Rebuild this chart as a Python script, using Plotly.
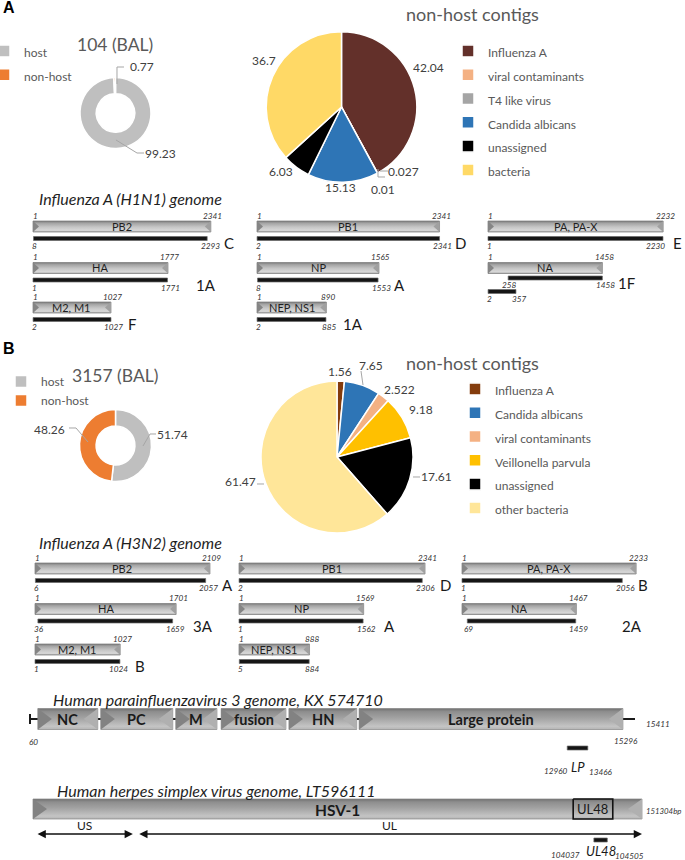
import plotly.graph_objects as go

# ------------------------------------------------------------------ data
host_labels = ["host", "non-host"]
host_colors = ["#bfbfbf", "#ed7d31"]

a_sample = "104 (BAL)"
a_host_values = [99.23, 0.77]
a_contig_labels = ["Influenza A", "viral contaminants", "T4 like virus",
                   "Candida albicans", "unassigned", "bacteria"]
a_contig_values = [42.04, 0.027, 0.01, 15.13, 6.03, 36.7]
a_contig_colors = ["#63302a", "#f4b183", "#a5a5a5", "#2e75b6", "#000000", "#ffd966"]

b_sample = "3157 (BAL)"
b_host_values = [51.74, 48.26]
b_contig_labels = ["Influenza A", "Candida albicans", "viral contaminants",
                   "Veillonella parvula", "unassigned", "other bacteria"]
b_contig_values = [1.56, 7.65, 2.522, 9.18, 17.61, 61.47]
b_contig_colors = ["#843c0c", "#2e75b6", "#f4b183", "#ffc000", "#000000", "#ffe699"]

seg_names = ["PB2", "PB1", "PA, PA-X", "HA", "NP", "NA", "M2, M1", "NEP, NS1"]

h1n1_title = "Influenza A (H1N1) genome"
h1n1_lengths = [2341, 2341, 2232, 1777, 1565, 1458, 1027, 890]
h1n1_cov = [[(8, 2293)], [(2, 2341)], [(1, 2230)], [(1, 1771)], [(8, 1553)],
            [(258, 1458), (2, 357)], [(2, 1027)], [(2, 885)]]
h1n1_clade = ["C", "D", "E", "1A", "A", "1F", "F", "1A"]

h3n2_title = "Influenza A (H3N2) genome"
h3n2_lengths = [2109, 2341, 2233, 1701, 1569, 1467, 1027, 888]
h3n2_cov = [[(6, 2057)], [(2, 2306)], [(1, 2056)], [(36, 1659)], [(1, 1562)],
            [(69, 1459)], [(1, 1024)], [(5, 884)]]
h3n2_clade = ["A", "D", "B", "3A", "A", "2A", "B", ""]

# schematic tracks: positions as drawn, in % of the genome line
hpiv3_title = "Human parainfluenzavirus 3 genome, KX 574710"
hpiv3_genes = ["NC", "PC", "M", "fusion", "HN", "Large protein"]
hpiv3_gene_start = [1.3, 11.7, 24.1, 31.6, 42.8, 54.4]
hpiv3_gene_end = [11.2, 23.6, 30.9, 42.3, 54.0, 98.0]
hpiv3_line = [0, 100]
hpiv3_coord_labels = ["60", "15296", "15411"]
hpiv3_read = [88.8, 92.2]
hpiv3_read_labels = ["12960", "LP", "13466"]

hsv_title = "Human herpes simplex virus genome, LT596111"
hsv_name = "HSV-1"
hsv_genome = [0, 100]
hsv_length_label = "151304bp"
hsv_regions = ["US", "UL"]
hsv_region_start = [0.5, 17.2]
hsv_region_end = [16.4, 100]
hsv_box_label = "UL48"
hsv_box = [88.7, 95.2]
hsv_read = [92.1, 94.3]
hsv_read_labels = ["104037", "UL48", "104505"]

# ------------------------------------------------------------------ layout constants
W, H = 685, 860
FONT = "Lato"
TXT = "#595959"
LBL = "#404040"
DARK = "#1f1f1f"


def fx(p):
    return p / W


def fy(p):
    return 1 - p / H


fig = go.Figure()
axes = {}
annotations = []
shapes = []


def xref_of(i):
    return "x" if i == 1 else f"x{i}"


def add_xaxis(i, origin, scale, v0, d0, d1):
    d0 = max(0, d0)
    d1 = min(W, d1)
    name = "xaxis" if i == 1 else f"xaxis{i}"
    axes[name] = dict(domain=[fx(d0), fx(d1)],
                      range=[v0 + (d0 - origin) / scale, v0 + (d1 - origin) / scale],
                      visible=False, fixedrange=True, anchor="y")
    return xref_of(i)


def poly(xref, xs, ys, fillcolor, line_color=None, line_width=0, gradient=None):
    kw = {}
    if gradient is not None:
        kw["fillgradient"] = dict(type="vertical", colorscale=gradient)
    fig.add_trace(go.Scatter(x=xs, y=ys, mode="lines", fill="toself", fillcolor=fillcolor,
                             line=dict(color=line_color or fillcolor, width=line_width),
                             xaxis=xref, yaxis="y", hoverinfo="skip", showlegend=False, **kw))


BAR_GRAD = [[0, "#a8a8a8"], [0.15, "#d8d8d8"], [0.45, "#c6c6c6"], [0.8, "#a4a4a4"], [1, "#7a7a7a"]]
GENE_GRAD = [[0, "#b4b4b4"], [0.15, "#c4c4c4"], [0.55, "#a2a2a2"], [0.85, "#8e8e8e"], [1, "#707070"]]


def bevel_bar(xref, x0, x1, yc, h, notch, grad, edge="#7a7a7a",
              notch_l="#858585", notch_r="#a0a0a0"):
    t, b = yc - h / 2, yc + h / 2
    poly(xref, [x0, x1, x1, x0, x0], [t, t, b, b, t], "#bbbbbb", edge, 0.7, grad)
    poly(xref, [x0, x0 + notch, x0, x0], [t, yc, b, t], notch_l)
    poly(xref, [x1, x1 - notch, x1, x1], [t, yc, b, t], notch_r)


def black_bar(xref, x0, x1, yc, h):
    t, b = yc - h / 2, yc + h / 2
    poly(xref, [x0, x1, x1, x0, x0], [t, t, b, b, t], "#151515", "#6a6a6a", 0.7)


def text(xref, x, y, s, size, color=DARK, xanchor="center", xshift=0, family=FONT, yref="y"):
    annotations.append(dict(xref=xref, yref=yref, x=x, y=y, text=s, showarrow=False,
                            xanchor=xanchor, yanchor="middle", xshift=xshift,
                            font=dict(size=size, color=color, family=family)))


def ptext(x, y, s, size, color=DARK, xanchor="center", family=FONT):
    annotations.append(dict(xref="paper", yref="paper", x=fx(x), y=fy(y), text=s,
                            showarrow=False, xanchor=xanchor, yanchor="middle",
                            font=dict(size=size, color=color, family=family)))


def leader(points):
    d = "M" + " L".join(f"{fx(x):.5f},{fy(y):.5f}" for x, y in points)
    shapes.append(dict(type="path", xref="paper", yref="paper", path=d,
                       line=dict(color="#a6a6a6", width=1)))


axes["yaxis"] = dict(domain=[0, 1], range=[H, 0], visible=False, fixedrange=True, anchor="x")

# ------------------------------------------------------------------ pies
def add_pie(labels, values, colors, cx, cy, r, hole, legend_name, label_style=None):
    shown = labels
    if label_style:
        shown = [f"<span style='{label_style}'>{l}</span>" for l in labels]
    fig.add_trace(go.Pie(labels=shown, values=values, sort=False, direction="clockwise",
                         rotation=0, hole=hole, textinfo="none",
                         marker=dict(colors=colors, line=dict(color="white", width=1.5)),
                         domain=dict(x=[fx(cx - r), fx(cx + r)], y=[fy(cy + r), fy(cy - r)]),
                         legend=legend_name, hovertemplate="%{label}: %{value}<extra></extra>"))


def pie_labels(values, positions):
    for v, (x, y) in zip(values, positions):
        ptext(x, y, str(v), 12, LBL)


add_pie(host_labels, a_host_values, host_colors, 115.5, 113, 35.5, 0.54, "legend",
        "font-size:12px")
add_pie(a_contig_labels, a_contig_values, a_contig_colors, 341.5, 107, 75.3, 0, "legend2",
        "font-size:12px")
add_pie(host_labels, b_host_values, host_colors, 115.5, 445.5, 36, 0.54, "legend3")
add_pie(b_contig_labels, b_contig_values, b_contig_colors, 337, 457, 76, 0, "legend4",
        "font-size:12.0px")

ptext(115, 45, a_sample, 17.5, TXT)
ptext(472, 14, "non-host contigs", 18, TXT)
ptext(115, 375, b_sample, 17.5, TXT)
ptext(473, 363, "non-host contigs", 18, TXT)

pie_labels(a_host_values, [(160, 153), (141.5, 67)])
pie_labels(a_contig_values, [(428, 68), (403, 172), (383, 189), (340, 187), (281, 172), (264, 60)])
pie_labels(b_host_values, [(172, 434), (50, 429)])
pie_labels(b_contig_values, [(340, 372), (371, 365), (400, 389), (421, 410), (436, 476), (240, 481)])

leader([(117, 84), (117, 67), (124, 67)])
leader([(116, 140), (137, 153), (144, 153)])
leader([(378, 169), (378, 177), (385, 177)])
leader([(380, 171), (388, 171)])
leader([(69, 428), (76, 428), (88, 442)])
leader([(143, 446), (150, 434), (156, 434)])
leader([(363, 385), (361, 371)])
leader([(413, 477), (420, 477)])
leader([(257, 484), (264, 484)])

# ------------------------------------------------------------------ influenza genomes
SEG_POS = [(0, 0), (1, 0), (2, 0), (0, 1), (1, 1), (2, 1), (0, 2), (1, 2)]
GRAY_H, BLACK_H = 11, 4
NOTCH_PX = 6
NUM = 8.2


def draw_flu(title, ty, lengths, covs, clades, origins, scales, rows, first_axis,
             letter_dx, end_dx):
    ptext(37, ty, f"<i>{title}</i>", 16, DARK, xanchor="left")
    refs = []
    for c in range(3):
        refs.append(add_xaxis(first_axis + c, origins[c], scales[c], 1,
                              origins[c] - 25, origins[c] + 2400 * scales[c] + 25))
    for i, name in enumerate(seg_names):
        c, r = SEG_POS[i]
        xr, s, yc, L = refs[c], scales[c], rows[r], lengths[i]
        bevel_bar(xr, 1, L, yc, GRAY_H, NOTCH_PX / s, BAR_GRAD)
        text(xr, (1 + L) / 2, yc - 0.5, name, 11, DARK)
        text(xr, 1, yc - 11, "<i>1</i>", NUM, "#333", xshift=2)
        text(xr, L, yc - 11, f"<i>{L}</i>", NUM, "#333", xshift=2)
        pieces = covs[i]
        if len(pieces) == 1:
            offs = [(12, 7.5)]
        else:
            offs = [(10, 6.5), (23.5, 7)]
        for k, ((a, b), (dy, ly)) in enumerate(zip(pieces, offs)):
            by = yc + dy
            black_bar(xr, a, b, by, BLACK_H)
            text(xr, a, by + ly, f"<i>{a}</i>", NUM, "#333", xshift=1)
            text(xr, b, by + ly, f"<i>{b}</i>", NUM, "#333", xshift=end_dx[i] if k == 0 else 3)
        if clades[i]:
            text(xr, pieces[0][1], yc + offs[0][0] + 4.5, clades[i], 15, "#1a1a1a",
                 xanchor="left", xshift=letter_dx[i])


draw_flu(h1n1_title, 198, h1n1_lengths, h1n1_cov, h1n1_clade,
         [33, 257, 488], [0.076, 0.078, 0.0785], [226.5, 268, 307.5], 1,
         [15, 13, 8, 26, 14, 14, 15, 15], [3, 3, -7, 3, 3, 3, 3, 3])
draw_flu(h3n2_title, 542, h3n2_lengths, h3n2_cov, h3n2_clade,
         [35, 239, 462], [0.083, 0.0795, 0.078], [568.5, 609, 649.5], 4,
         [14, 16, 14, 18, 19, 44, 13, 16], [3, 3, 3, 3, 3, 3, -1, 3])

# ------------------------------------------------------------------ HPIV3 (schematic)
hx = add_xaxis(7, 30, 6.05, 0, 12, 680)
HY = 719
ptext(51, 699, f"<i>{hpiv3_title}</i>", 16, DARK, xanchor="left")
fig.add_trace(go.Scatter(x=hpiv3_line, y=[HY, HY], mode="lines", line=dict(color="#1a1a1a", width=2),
                         xaxis=hx, yaxis="y", hoverinfo="skip", showlegend=False))
fig.add_trace(go.Scatter(x=[hpiv3_line[0], hpiv3_line[0]], y=[HY - 5, HY + 5], mode="lines",
                         line=dict(color="#1a1a1a", width=2), xaxis=hx, yaxis="y",
                         hoverinfo="skip", showlegend=False))
for g, s0, s1 in zip(hpiv3_genes, hpiv3_gene_start, hpiv3_gene_end):
    bevel_bar(hx, s0, s1, HY, 21, 14 / 6.05, GENE_GRAD, edge="#858585",
              notch_l="#828282", notch_r="#b0b0b0")
    text(hx, (s0 + s1) / 2, HY, f"<b>{g}</b>", 14.5, "#1a1a1a")
text(hx, hpiv3_line[0], 742, f"<i>{hpiv3_coord_labels[0]}</i>", NUM, "#333", xshift=3)
text(hx, hpiv3_gene_end[-1], 741, f"<i>{hpiv3_coord_labels[1]}</i>", NUM, "#333", xshift=3)
text(hx, hpiv3_line[1], 724, f"<i>{hpiv3_coord_labels[2]}</i>", NUM, "#333",
     xanchor="left", xshift=9)
black_bar(hx, hpiv3_read[0], hpiv3_read[1], 748, 4)
text(hx, hpiv3_read[0], 771, f"<i>{hpiv3_read_labels[0]}</i>", NUM, "#333", xanchor="right", xshift=3)
text(hx, sum(hpiv3_read) / 2, 767, f"<i>{hpiv3_read_labels[1]}</i>", 13, "#1a1a1a")
text(hx, hpiv3_read[1], 772, f"<i>{hpiv3_read_labels[2]}</i>", NUM, "#333", xanchor="left", xshift=-1)

# ------------------------------------------------------------------ HSV-1 (schematic)
sx = add_xaxis(8, 33, 6.09, 0, 12, 680)
SY = 809
ptext(55, 790, f"<i>{hsv_title}</i>", 16, DARK, xanchor="left")
bevel_bar(sx, hsv_genome[0], hsv_genome[1], SY, 20, 14 / 6.09, GENE_GRAD, edge="#858585",
          notch_l="#828282", notch_r="#b0b0b0")
text(sx, sum(hsv_genome) / 2, SY + 1, f"<b>{hsv_name}</b>", 15.5, "#1a1a1a")
fig.add_trace(go.Scatter(x=[hsv_box[0], hsv_box[1], hsv_box[1], hsv_box[0], hsv_box[0]],
                         y=[SY - 10, SY - 10, SY + 10, SY + 10, SY - 10], mode="lines",
                         line=dict(color="#111", width=1.6), xaxis=sx, yaxis="y",
                         hoverinfo="skip", showlegend=False))
text(sx, sum(hsv_box) / 2, SY, hsv_box_label, 13, "#1a1a1a")
text(sx, hsv_genome[1], 811, f"<i>{hsv_length_label}</i>", 7.8, "#333", xanchor="left", xshift=2)
for reg, r0, r1 in zip(hsv_regions, hsv_region_start, hsv_region_end):
    annotations.append(dict(xref=sx, yref="y", axref=sx, ayref="y", x=r1, y=834, ax=r0, ay=834,
                            text="", showarrow=True, arrowhead=2, arrowside="end+start",
                            arrowsize=1.1, arrowwidth=1.5, arrowcolor="#111", standoff=0,
                            startstandoff=0))
    text(sx, (r0 + r1) / 2, 825, reg, 12, "#1a1a1a")
black_bar(sx, hsv_read[0], hsv_read[1], 840, 4)
text(sx, hsv_read[0], 855, f"<i>{hsv_read_labels[0]}</i>", NUM, "#333", xanchor="right", xshift=-12)
text(sx, sum(hsv_read) / 2, 851, f"<i>{hsv_read_labels[1]}</i>", 13, "#1a1a1a")
text(sx, hsv_read[1], 856, f"<i>{hsv_read_labels[2]}</i>", NUM, "#333", xanchor="left", xshift=6)

# ------------------------------------------------------------------ panel letters
annotations.append(dict(xref="paper", yref="paper", x=fx(1), y=fy(8), text="<b>A</b>",
                        showarrow=False, xanchor="left", yanchor="middle",
                        font=dict(size=16, color="#000", family="Liberation Sans")))
annotations.append(dict(xref="paper", yref="paper", x=fx(1), y=fy(348), text="<b>B</b>",
                        showarrow=False, xanchor="left", yanchor="middle",
                        font=dict(size=16, color="#000", family="Liberation Sans")))


# ------------------------------------------------------------------ legends
def leg(x_px, top_px, size):
    return dict(x=fx(x_px), y=fy(top_px), xanchor="left", yanchor="top",
                bgcolor="rgba(0,0,0,0)", borderwidth=0, itemwidth=30,
                font=dict(family=FONT, size=size, color=TXT),
                itemclick=False, itemdoubleclick=False, traceorder="normal")


fig.update_layout(
    width=W, height=H, margin=dict(l=0, r=0, t=0, b=0, autoexpand=False),
    paper_bgcolor="white", plot_bgcolor="rgba(0,0,0,0)",
    font=dict(family=FONT, color=DARK),
    showlegend=True,
    legend=leg(-16, 34, 16),
    legend2=leg(448, 34, 16),
    legend3=leg(1, 367, 12),
    legend4=leg(455, 372, 16),
    annotations=annotations, shapes=shapes,
    **axes,
)

fig.write_html("out.html", config={"displayModeBar": False},
               post_script="document.body.style.margin='0px';document.body.style.overflow='hidden';")
